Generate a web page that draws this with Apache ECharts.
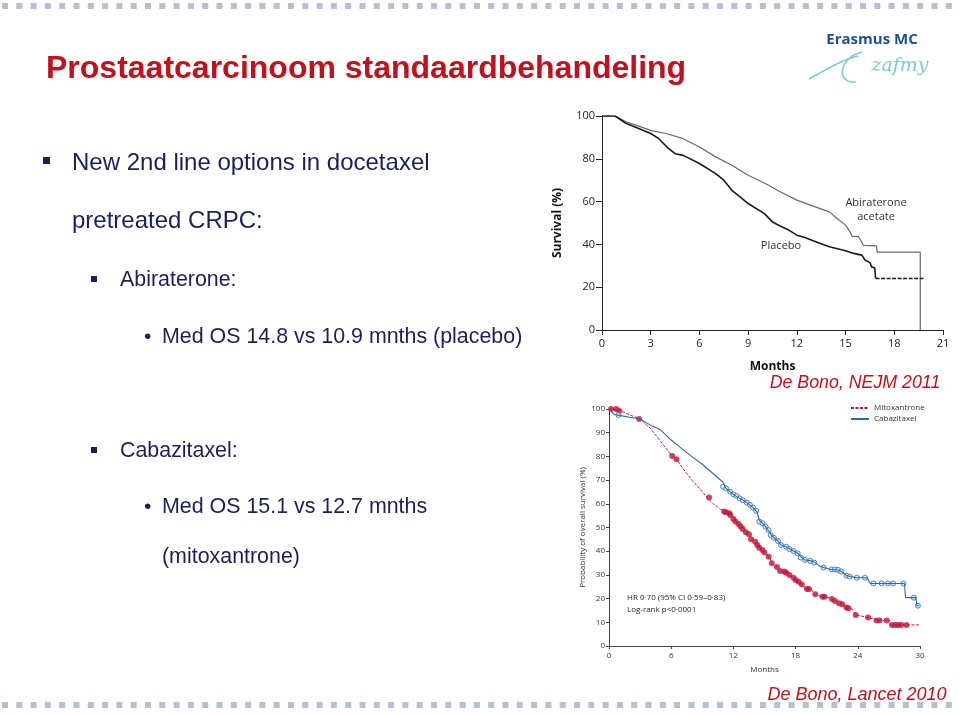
<!DOCTYPE html>
<html>
<head>
<meta charset="utf-8">
<script src="https://cdn.jsdelivr.net/npm/echarts@6/dist/echarts.min.js"></script>
<style>
  html, body { margin: 0; padding: 0; background: #fff; }
  #main { width: 960px; height: 714px; }
</style>
</head>
<body>
<div id="main"></div>
<script>
// ---- top chart: De Bono, NEJM 2011 (months, survival %) ----
var abiraterone = [[0,100],[0.8,100],[1.5,97.2],[2,96],[3,93.3],[4,91.7],[5,89.4],[6,85.5],[7,80.9],[8,77],[9,72.3],[10,68.7],[11,64.5],[12,60.7],[13,57.9],[14,55.2],[14.5,52],[15,49],[15.3,45.5],[15.4,43.9],[15.8,43.6],[16,41],[16.1,39.5],[16.9,39.3],[16.95,36.4],[19.6,36.4],[19.6,0]];
var placebo = [[0,100],[0.8,100],[1.5,96.5],[2,95],[3,91.8],[3.5,89.4],[4,85.5],[4.5,82.4],[5,81.6],[6,77.8],[7,73.1],[7.5,70],[8,65.3],[8.5,62.2],[9,59.1],[10,54.4],[10.5,50.5],[11,48.5],[11.5,46.7],[12,44.3],[12.5,43.2],[13,41.7],[14,38.9],[15,37],[15.5,35.8],[16,35],[16.2,32.7],[16.5,31.5],[16.6,29.5],[16.8,29],[16.85,24.1]];
var placeboTail = [[16.85,24.1],[19.8,24.1]];

// ---- bottom chart: De Bono, Lancet 2010 ----
var mitoxantrone = [[0,100],[1,99.5],[2,97.5],[3,95.8],[4,91.8],[5,86.2],[6,80.6],[6.5,78.8],[7,75.7],[8,70],[9,65.1],[9.5,62.6],[10,60.2],[11,56.8],[11.7,55.3],[12,53.6],[12.5,51.5],[13,49.6],[13.5,47.1],[14,44.3],[14.5,41.5],[15,39.4],[15.5,37.3],[15.7,34.9],[16.2,33.3],[16.5,31.6],[17,31.1],[17.5,29.7],[18,27.8],[18.6,26],[19,24.3],[19.5,23.8],[19.9,21.8],[20.5,20.8],[21.3,20.3],[21.8,19],[22.5,17.6],[23.1,15.9],[23.5,15.5],[23.8,13.1],[24.5,12.5],[25,12],[25.5,11.5],[25.8,10.8],[27,10.8],[27.2,8.9],[29.9,8.9]];
var mitoCensored = [[0.2,100],[0.7,100],[1,99.2],[2.9,95.8],[6.1,80.2],[6.5,78.8],[9.65,62.7],[11.1,56.8],[11.3,56.4],[11.6,56],[11.7,55.3],[12,53.6],[12.2,52.5],[12.5,51.5],[12.7,50.4],[12.9,49.4],[13.2,48],[13.5,47.1],[13.7,45],[14.1,44],[14.3,42.6],[14.5,41.5],[14.8,40.5],[15,39.4],[15.4,37.7],[15.7,34.9],[16.2,33.3],[16.5,31.6],[16.9,31.4],[17.1,30.9],[17.4,30],[17.8,28.8],[18,27.8],[18.3,27.1],[18.6,26],[19.1,24],[19.3,24],[19.9,21.8],[20.6,20.8],[20.8,20.8],[21.5,19.8],[21.8,19],[22.2,18],[22.5,17.6],[22.9,16.2],[23.1,15.9],[23.8,13.1],[25,12],[25.8,10.8],[26.1,10.8],[26.8,10.8],[27.3,8.9],[27.6,8.9],[27.9,8.9],[28.2,8.9],[28.7,8.9]];
var cabazitaxel = [[0,100],[0.5,97.7],[1,97.3],[2,96.5],[3,95.8],[4,93.2],[5,91.1],[6,86.9],[7,83.4],[8,79.9],[9,76.7],[10,72.9],[11,69.1],[11.3,66.5],[12,64],[12.6,62.3],[13.3,60.5],[13.9,58.4],[14.3,56.5],[14.5,53],[14.8,51.8],[15.1,50.4],[15.5,48],[15.7,46.5],[16.3,44.3],[16.6,42.6],[17.1,41.9],[17.8,40.1],[18.3,38.8],[18.6,37.3],[18.9,36.3],[19.5,35.9],[19.9,35.2],[20.3,33.8],[20.7,33.1],[21.3,32.4],[22.1,32.1],[22.5,31.2],[22.9,29.7],[23.3,29.3],[23.9,28.8],[24.9,28.8],[25.2,26.4],[28.5,26.4],[28.6,20.4],[29.6,20.4],[29.7,17],[29.9,17]];
var cabaCensored = [[0.9,97.5],[11,67.2],[11.3,66.5],[11.7,65.1],[12,64],[12.3,63.3],[12.6,62.3],[12.9,61.5],[13.3,60.5],[13.6,59.5],[13.9,58.4],[14.2,57],[14.5,52.5],[14.8,51.8],[15.1,50.4],[15.4,48.9],[15.6,46.8],[15.9,45.7],[16.3,44.3],[16.6,42.6],[17.1,41.9],[17.4,40.9],[17.8,40.1],[18.2,39.1],[18.5,37.3],[18.9,36.3],[19.4,35.9],[19.8,35.2],[20.7,33.1],[21.5,32.3],[21.8,32.3],[22.1,32.1],[22.4,31.4],[22.9,29.7],[23.2,29.3],[23.9,28.8],[24.7,28.8],[25.5,26.4],[26.3,26.4],[26.9,26.4],[27.4,26.4],[28.4,26.4],[29.4,20.4],[29.8,17]];

var navy = '#1b205c';
var red = '#c0121c';
var sans = '"Liberation Sans", Arial, sans-serif';
var plotFont = '"Open Sans", "DejaVu Sans", sans-serif';

var chart = echarts.init(document.getElementById('main'));

function txt(text, x, y, size, opts) {
  opts = opts || {};
  return {
    type: 'text', x: x, y: y, rotation: opts.rotation || 0,
    style: {
      text: text, fill: opts.color || navy,
      font: (opts.style || '') + ' ' + (opts.weight || 'normal') + ' ' + size + 'px ' + (opts.family || sans),
      textAlign: opts.align || 'left', textVerticalAlign: 'middle'
    }
  };
}

var sig = '#7cc8d8';
var elements = [
  // dotted slide borders
  { type: 'line', shape: { x1: 2, y1: 6, x2: 960, y2: 6 }, style: { stroke: '#b7bed8', lineWidth: 6, lineDash: [6, 8.3] } },
  { type: 'line', shape: { x1: 2, y1: 705, x2: 960, y2: 705 }, style: { stroke: '#b7bed8', lineWidth: 6, lineDash: [6, 8.3] } },
  // title
  txt('Prostaatcarcinoom standaardbehandeling', 46, 69, 32, { color: red, weight: 'bold' }),
  // logo
  txt('Erasmus MC', 872, 40, 15, { color: '#1f4f96', weight: 'bold', align: 'center', family: '"Open Sans", sans-serif' }),
  { type: 'bezierCurve', shape: { x1: 809, y1: 79, x2: 858, y2: 56, cpx1: 825, cpy1: 70, cpx2: 845, cpy2: 58 }, style: { stroke: sig, lineWidth: 1.6, fill: null } },
  { type: 'bezierCurve', shape: { x1: 862, y1: 52, x2: 856, y2: 82, cpx1: 838, cpy1: 58, cpx2: 836, cpy2: 84 }, style: { stroke: sig, lineWidth: 1.6, fill: null } },
  txt('zafmy', 900, 66, 19, { color: sig, style: 'italic', align: 'center', family: '"DejaVu Serif", serif' }),
  // bullets
  { type: 'rect', shape: { x: 43, y: 157, width: 7, height: 7 }, style: { fill: navy } },
  txt('New 2nd line options in docetaxel', 72, 163, 24),
  txt('pretreated CRPC:', 72, 221, 24),
  { type: 'rect', shape: { x: 91, y: 276, width: 6, height: 6 }, style: { fill: navy } },
  txt('Abiraterone:', 120, 280, 21.4),
  txt('\u2022', 144, 337, 21),
  txt('Med OS 14.8 vs 10.9 mnths (placebo)', 162, 337, 21.4),
  { type: 'rect', shape: { x: 91, y: 447, width: 6, height: 6 }, style: { fill: navy } },
  txt('Cabazitaxel:', 120, 451, 21.4),
  txt('\u2022', 144, 507, 21),
  txt('Med OS 15.1 vs 12.7 mnths', 162, 507, 21.4),
  txt('(mitoxantrone)', 162, 557, 21.4),
  // sources
  txt('De Bono, NEJM 2011', 855, 383, 17.8, { color: red, style: 'italic', align: 'center' }),
  txt('De Bono, Lancet 2010', 857, 695, 18, { color: red, style: 'italic', align: 'center' }),
  // in-plot labels
  txt('Abiraterone', 876, 203, 11, { color: '#333', align: 'center', family: plotFont }),
  txt('acetate', 876, 217, 11, { color: '#333', align: 'center', family: plotFont }),
  txt('Placebo', 781, 246, 11, { color: '#333', align: 'center', family: plotFont }),
  txt('HR 0\u00b770 (95% CI 0\u00b759\u20130\u00b783)', 627, 598, 8, { color: '#222', family: plotFont }),
  txt('Log-rank p<0\u00b70001', 627, 610, 8, { color: '#222', family: plotFont })
];

chart.setOption({
  animation: false,
  backgroundColor: '#fff',
  textStyle: { fontFamily: plotFont },
  grid: [
    { left: 602, top: 116, width: 341, height: 214 },
    { left: 609, top: 409, width: 311, height: 237 }
  ],
  legend: {
    data: ['Mitoxantrone', 'Cabazitaxel'],
    orient: 'vertical', left: 850, top: 404,
    itemWidth: 18, itemHeight: 8, itemGap: 3, padding: 0,
    itemStyle: { opacity: 0 },
    textStyle: { fontSize: 8, color: '#333' }
  },
  xAxis: [
    {
      gridIndex: 0, type: 'value', min: 0, max: 21, interval: 3,
      name: 'Months', nameLocation: 'middle', nameGap: 31,
      nameTextStyle: { fontSize: 12, fontWeight: 'bold', color: '#111' },
      axisLine: { show: true, lineStyle: { color: '#222', width: 1 } },
      axisTick: { show: true, length: 5, lineStyle: { color: '#222' } },
      axisLabel: { fontSize: 11, color: '#222', margin: 8 },
      splitLine: { show: false }
    },
    {
      gridIndex: 1, type: 'value', min: 0, max: 30, interval: 6,
      name: 'Months', nameLocation: 'middle', nameGap: 20,
      nameTextStyle: { fontSize: 8, color: '#333' },
      axisLine: { show: true, lineStyle: { color: '#444', width: 1 } },
      axisTick: { show: true, length: 3, lineStyle: { color: '#444' } },
      axisLabel: { fontSize: 8, color: '#333', margin: 6 },
      splitLine: { show: false }
    }
  ],
  yAxis: [
    {
      gridIndex: 0, type: 'value', min: 0, max: 100, interval: 20,
      name: 'Survival (%)', nameLocation: 'middle', nameGap: 38, nameRotate: 90,
      nameTextStyle: { fontSize: 12, fontWeight: 'bold', color: '#111' },
      axisLine: { show: true, lineStyle: { color: '#222', width: 1 } },
      axisTick: { show: true, length: 6, lineStyle: { color: '#222' } },
      axisLabel: { fontSize: 11, color: '#222', margin: 7 },
      splitLine: { show: false }
    },
    {
      gridIndex: 1, type: 'value', min: 0, max: 100, interval: 10,
      name: 'Probability of overall survival (%)', nameLocation: 'middle', nameGap: 22, nameRotate: 90,
      nameTextStyle: { fontSize: 8, color: '#333' },
      axisLine: { show: true, lineStyle: { color: '#444', width: 1 } },
      axisTick: { show: true, length: 3, lineStyle: { color: '#444' } },
      axisLabel: { fontSize: 8, color: '#333', margin: 4 },
      splitLine: { show: false }
    }
  ],
  series: [
    {
      name: 'Abiraterone acetate', type: 'line', xAxisIndex: 0, yAxisIndex: 0,
      data: abiraterone, showSymbol: false, symbol: 'none',
      lineStyle: { color: '#6a6a6a', width: 1.2 }
    },
    {
      name: 'Placebo', type: 'line', xAxisIndex: 0, yAxisIndex: 0,
      data: placebo, showSymbol: false, symbol: 'none',
      lineStyle: { color: '#1a1a1a', width: 1.6 }
    },
    {
      name: 'Placebo tail', type: 'line', xAxisIndex: 0, yAxisIndex: 0,
      data: placeboTail, showSymbol: false, symbol: 'none',
      lineStyle: { color: '#1a1a1a', width: 1.6, type: [4, 1.5] }
    },
    {
      name: 'Mitoxantrone', type: 'line', xAxisIndex: 1, yAxisIndex: 1,
      data: mitoxantrone, showSymbol: false, symbol: 'none',
      itemStyle: { color: '#c0163c' },
      lineStyle: { color: '#c0163c', width: 1, type: [3, 1.5] }
    },
    {
      name: 'Cabazitaxel', type: 'line', xAxisIndex: 1, yAxisIndex: 1,
      data: cabazitaxel, showSymbol: false, symbol: 'none',
      itemStyle: { color: '#2d6aa6' },
      lineStyle: { color: '#2d6aa6', width: 1.1 }
    },
    {
      name: 'Mitoxantrone censored', type: 'scatter', xAxisIndex: 1, yAxisIndex: 1,
      data: mitoCensored, symbolSize: 6,
      itemStyle: { color: '#c0163c' }
    },
    {
      name: 'Cabazitaxel censored', type: 'scatter', xAxisIndex: 1, yAxisIndex: 1,
      data: cabaCensored, symbolSize: 5,
      itemStyle: { color: '#dce8f4', borderColor: '#2d6aa6', borderWidth: 1 }
    }
  ],
  graphic: { elements: elements }
});
</script>
</body>
</html>
